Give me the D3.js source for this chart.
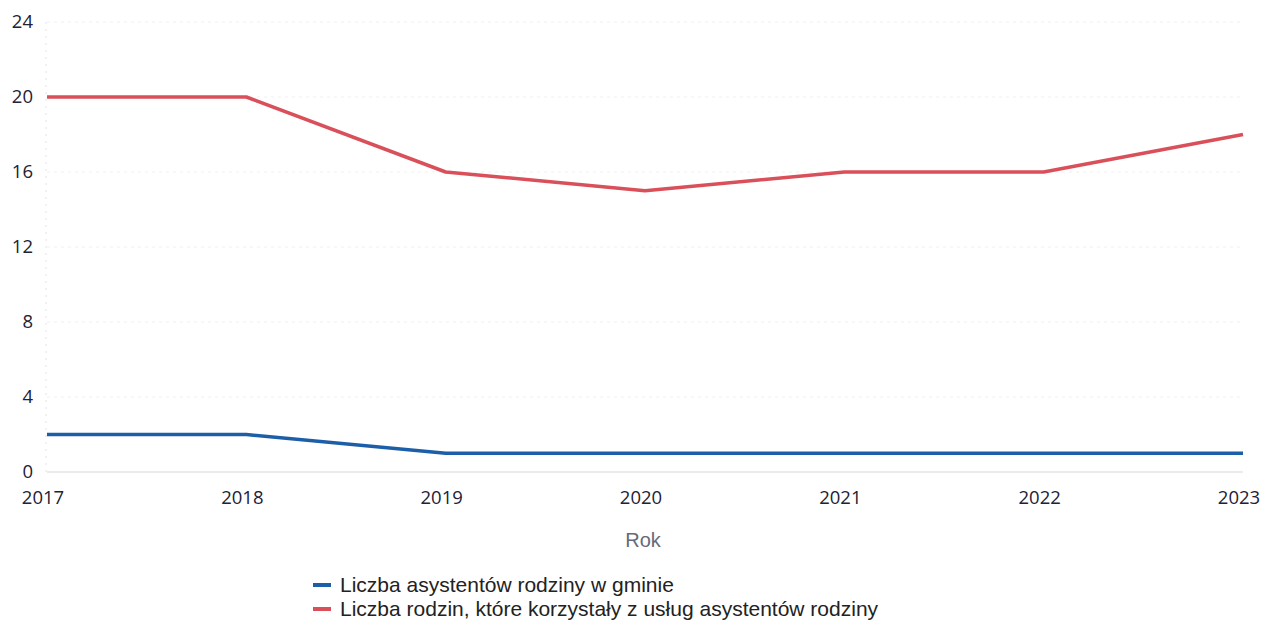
<!DOCTYPE html>
<html><head><meta charset="utf-8">
<script src="https://cdn.jsdelivr.net/npm/d3@7"></script>
<style>body{margin:0;background:#fff}svg{display:block}</style>
</head><body>
<svg id="c" width="1275" height="622"></svg>
<script>
const years = [2017, 2018, 2019, 2020, 2021, 2022, 2023];
const assistants = [2, 2, 1, 1, 1, 1, 1];
const families = [20, 20, 16, 15, 16, 16, 18];
const yTicks = [0, 4, 8, 12, 16, 20, 24];
const seriesNames = ["Liczba asystentów rodziny w gminie", "Liczba rodzin, które korzystały z usług asystentów rodziny"];
const seriesColors = ["#1d5ea8", "#d9505a"];
const xTitle = "Rok";

const svg = d3.select("#c");
const x = d3.scalePoint().domain(years).range([47, 1243]);
const y = d3.scaleLinear().domain([0, 24]).range([472, 22]);

// grid
svg.append("g").selectAll("line").data(yTicks.filter(d => d > 0)).join("line")
  .attr("x1", 47).attr("x2", 1243).attr("y1", d => y(d)).attr("y2", d => y(d))
  .attr("stroke", "#f0f0f0").attr("stroke-width", 1).attr("stroke-dasharray", "3,4");
svg.append("line").attr("x1", 46).attr("x2", 46).attr("y1", y(24)).attr("y2", y(0))
  .attr("stroke", "#e4e4e4").attr("stroke-dasharray", "2,5");
svg.append("line").attr("x1", 47).attr("x2", 1243).attr("y1", y(0)).attr("y2", y(0))
  .attr("stroke", "#d8d8d8").attr("stroke-width", 1.2);

// y labels
svg.append("g").selectAll("text").data(yTicks).join("text")
  .attr("x", 33).attr("y", d => y(d)).attr("dy", "0.35em").attr("text-anchor", "end")
  .attr("font-family", "Open Sans, sans-serif").attr("font-size", 18.5).attr("fill", "#222236")
  .text(d => d);

// x labels
svg.append("g").selectAll("text").data(years).join("text")
  .attr("x", (d, i) => x(d) - 4).attr("y", 504).attr("text-anchor", "middle")
  .attr("font-family", "Open Sans, sans-serif").attr("font-size", 18.5).attr("fill", "#222236")
  .text(d => d);

svg.append("text").attr("x", 643).attr("y", 547).attr("text-anchor", "middle")
  .attr("font-family", "Liberation Sans, Arial, sans-serif").attr("font-size", 20).attr("fill", "#666a78")
  .text(xTitle);

const line = d3.line().x((d, i) => x(years[i])).y(d => y(d));
[assistants, families].forEach((s, k) => {
  svg.append("path").datum(s).attr("d", line).attr("fill", "none")
    .attr("stroke", seriesColors[k]).attr("stroke-width", 3.5).attr("stroke-linejoin", "round");
});

// legend
const lg = svg.append("g");
seriesNames.forEach((n, k) => {
  const yy = 585 + k * 24;
  lg.append("line").attr("x1", 313).attr("x2", 331).attr("y1", yy).attr("y2", yy)
    .attr("stroke", seriesColors[k]).attr("stroke-width", 4);
  lg.append("text").attr("x", 340).attr("y", yy).attr("dy", "0.35em")
    .attr("font-family", "Liberation Sans, Arial, sans-serif").attr("font-size", 21).attr("fill", "#222")
    .text(n);
});
</script>
</body></html>
